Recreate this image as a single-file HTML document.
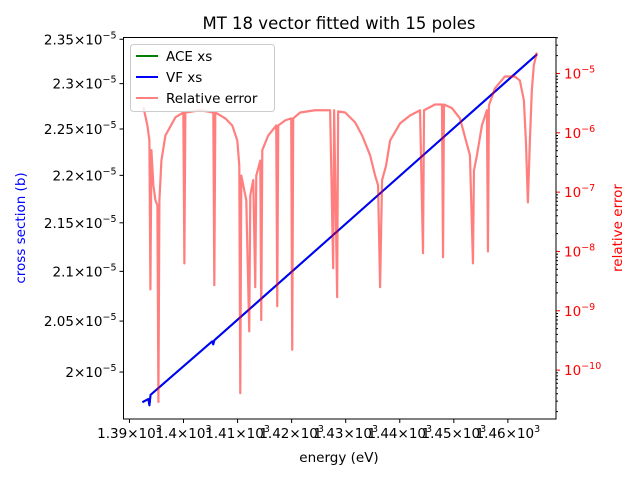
<!DOCTYPE html>
<html><head><meta charset="utf-8"><style>
html,body{margin:0;padding:0;background:#fff}
svg{display:block;font-family:"DejaVu Sans","Liberation Sans",sans-serif}
</style></head><body>
<svg id="chart" width="640" height="480" viewBox="0 0 640 480" xmlns="http://www.w3.org/2000/svg">
<rect width="640" height="480" fill="#fff"/>
<text x="339" y="29" font-size="16.5" text-anchor="middle">MT 18 vector fitted with 15 poles</text>
<text x="339" y="462" font-size="13.5" text-anchor="middle">energy (eV)</text>
<text transform="translate(25,228) rotate(-90)" font-size="13.5" text-anchor="middle" fill="#0000ff">cross section (b)</text>
<text transform="translate(622,228) rotate(-90)" font-size="13.5" text-anchor="middle" fill="#ff0000">relative error</text>
<g id="xticks"></g>
<g id="lticks"></g>
<g id="rticks"></g>
<g id="plot"></g>
<rect x="123.5" y="37.5" width="432.5" height="381.5" fill="none" stroke="#000" stroke-width="1"/>
<g>
<rect x="130.5" y="44.5" width="144" height="67" rx="3" fill="#fff" fill-opacity="0.8" stroke="#ccc"/>
<g><line x1="136" y1="56" x2="158" y2="56" stroke="#008000" stroke-width="2"/><text x="166" y="61" font-size="13.5">ACE xs</text></g>
<g><line x1="136" y1="77" x2="158" y2="77" stroke="#0000ff" stroke-width="2"/><text x="166" y="82" font-size="13.5">VF xs</text></g>
<g><line x1="136" y1="98" x2="158" y2="98" stroke="#ff8080" stroke-width="2"/><text x="166" y="103" font-size="13.5">Relative error</text></g>
</g>
</svg>
<script>
const xTicks = [1390,1400,1410,1420,1430,1440,1450,1460];
const xTickLabels = ["1.39","1.4","1.41","1.42","1.43","1.44","1.45","1.46"];
const leftTicks = [2.0e-5,2.05e-5,2.1e-5,2.15e-5,2.2e-5,2.25e-5,2.3e-5,2.35e-5];
const leftTickLabels = ["2","2.05","2.1","2.15","2.2","2.25","2.3","2.35"];
const rightTickExps = [-10,-9,-8,-7,-6,-5];
const xsEnergy = [1392.4,1393.5,1393.7,1393.9,1405.3,1405.5,1405.7,1465.4];
const aceXs = [1.971e-5,1.974e-5,1.968e-5,1.978e-5,2.030e-5,2.027e-5,2.031e-5,2.333e-5];
const vfXs = [1.971e-5,1.974e-5,1.968e-5,1.978e-5,2.030e-5,2.027e-5,2.031e-5,2.333e-5];
const errEnergy = [1392.59,1393.32,1393.69,1393.88,1394.06,1394.43,1394.80,1395.17,1395.36,1395.54,1395.91,1396.65,1398.50,1399.97,1400.16,1400.34,1403.11,1405.51,1405.70,1405.88,1407.73,1409.02,1409.95,1410.32,1410.50,1410.69,1411.24,1411.61,1412.16,1412.35,1412.90,1413.27,1413.46,1414.20,1414.38,1414.57,1415.67,1417.15,1417.34,1417.52,1418.81,1419.92,1420.11,1420.29,1421.58,1424.35,1427.12,1427.68,1427.86,1428.42,1428.60,1429.90,1431.74,1433.04,1434.51,1435.44,1435.99,1436.36,1436.73,1437.47,1438.21,1440.05,1441.90,1443.75,1444.30,1444.49,1446.52,1447.81,1448.00,1448.18,1449.66,1451.14,1452.24,1452.98,1453.54,1453.72,1454.28,1455.20,1456.12,1456.31,1456.49,1457.60,1459.45,1461.29,1462.22,1462.96,1463.33,1463.70,1464.07,1464.43,1464.80,1465.36];
const relError = [2.7e-6,1.33e-6,7.4e-7,2.3e-9,5.1e-7,1.3e-7,7.3e-8,6.0e-8,2.9e-11,7.3e-8,3.4e-7,9.0e-7,1.82e-6,2.2e-6,6.3e-9,2.2e-6,2.4e-6,2.2e-6,2.7e-9,2.2e-6,1.75e-6,1.33e-6,7.4e-7,2.8e-7,4.1e-11,1.9e-7,1.07e-7,7.3e-8,4.5e-10,8.8e-8,1.6e-7,2.5e-9,1.9e-7,3.4e-7,7.0e-10,5.1e-7,9.0e-7,1.33e-6,1.2e-9,1.33e-6,1.62e-6,1.75e-6,2.2e-10,1.75e-6,2.2e-6,2.4e-6,2.4e-6,5.2e-9,2.4e-6,1.7e-9,2.3e-6,2.2e-6,1.5e-6,9.0e-7,4.2e-7,1.9e-7,1.3e-7,2.5e-9,1.6e-7,2.8e-7,7.4e-7,1.44e-6,1.96e-6,2.4e-6,9.3e-9,2.4e-6,3.0e-6,3.0e-6,8.0e-9,3.0e-6,2.6e-6,1.75e-6,7.4e-7,4.2e-7,6.3e-9,2.3e-7,4.2e-7,1.33e-6,2.4e-6,1.0e-8,2.9e-6,5.6e-6,8.9e-6,8.9e-6,7.6e-6,3.5e-6,7.4e-7,6.7e-8,7.4e-7,5.2e-6,1.37e-5,2.26e-5];

const NS="http://www.w3.org/2000/svg";
const X0=123.5,X1=556,Y0=37.5,Y1=419;
const xMin=1388.9,xMax=1468.9;
function xs(e){return X0+(e-xMin)/(xMax-xMin)*(X1-X0);}
const lMin=Math.log10(1.955e-5),lMax=Math.log10(2.352e-5);
function yL(v){return Y1-(Math.log10(v)-lMin)/(lMax-lMin)*(Y1-Y0);}
const rMin=Math.log10(1.5e-11),rMax=Math.log10(4.04e-5);
function yR(v){return Y1-(Math.log10(v)-rMin)/(rMax-rMin)*(Y1-Y0);}
function mk(tag,attrs,parent){const el=document.createElementNS(NS,tag);for(const k in attrs)el.setAttribute(k,attrs[k]);parent.appendChild(el);return el;}
function sup(t,base,exp){const a=mk('tspan',{},t);a.textContent=base;const b=mk('tspan',{dy:-6,'font-size':'9.5'},t);b.textContent=exp;}

const gx=document.getElementById('xticks');
xTicks.forEach((v,i)=>{const x=xs(v);
 mk('line',{x1:x,y1:Y1,x2:x,y2:Y1+4,stroke:'#000'},gx);
 const t=mk('text',{x:x,y:Y1+19,'font-size':'13.5','text-anchor':'middle'},gx);
 
 
 sup(t,xTickLabels[i]+'\u00d710','3');
});
const gl=document.getElementById('lticks');
leftTicks.forEach((v,i)=>{const y=yL(v);
 mk('line',{x1:X0-4,y1:y,x2:X0,y2:y,stroke:'#000'},gl);
 const t=mk('text',{x:X0-7,y:y+5,'font-size':'13.5','text-anchor':'end'},gl);
 
 
 sup(t,leftTickLabels[i]+'\u00d710','\u22125');
});
const gr=document.getElementById('rticks');
for(let e=-11;e<=-5;e++){for(let m=2;m<=9;m++){const v=m*Math.pow(10,e);const y=yR(v);if(y<Y0||y>Y1)continue;mk('line',{x1:X1,y1:y,x2:X1+2,y2:y,stroke:'#000'},gr);}}
rightTickExps.forEach(e=>{const y=yR(Math.pow(10,e));
 mk('line',{x1:X1,y1:y,x2:X1+4,y2:y,stroke:'#ff0000'},gr);
 const t=mk('text',{x:X1+8,y:y+5,'font-size':'13.5',fill:'#ff0000'},gr);
 
 
 sup(t,'10','\u2212'+(-e));
});
const gp=document.getElementById('plot');
function path(E,V,yf,color,w,name){const d=E.map((e,i)=>(i?'L':'M')+xs(e).toFixed(2)+','+yf(V[i]).toFixed(2)).join('');
 const p=mk('path',{d:d,fill:'none',stroke:color,'stroke-width':w,'stroke-linejoin':'round'},gp);
 
 
}
path(xsEnergy,aceXs,yL,'#008000',2,'ace-xs-line');
path(xsEnergy,vfXs,yL,'#0000ff',2,'vf-xs-line');
path(errEnergy,relError,yR,'rgba(255,0,0,0.5)',2.2,'relative-error-line');
</script>
</body></html>
